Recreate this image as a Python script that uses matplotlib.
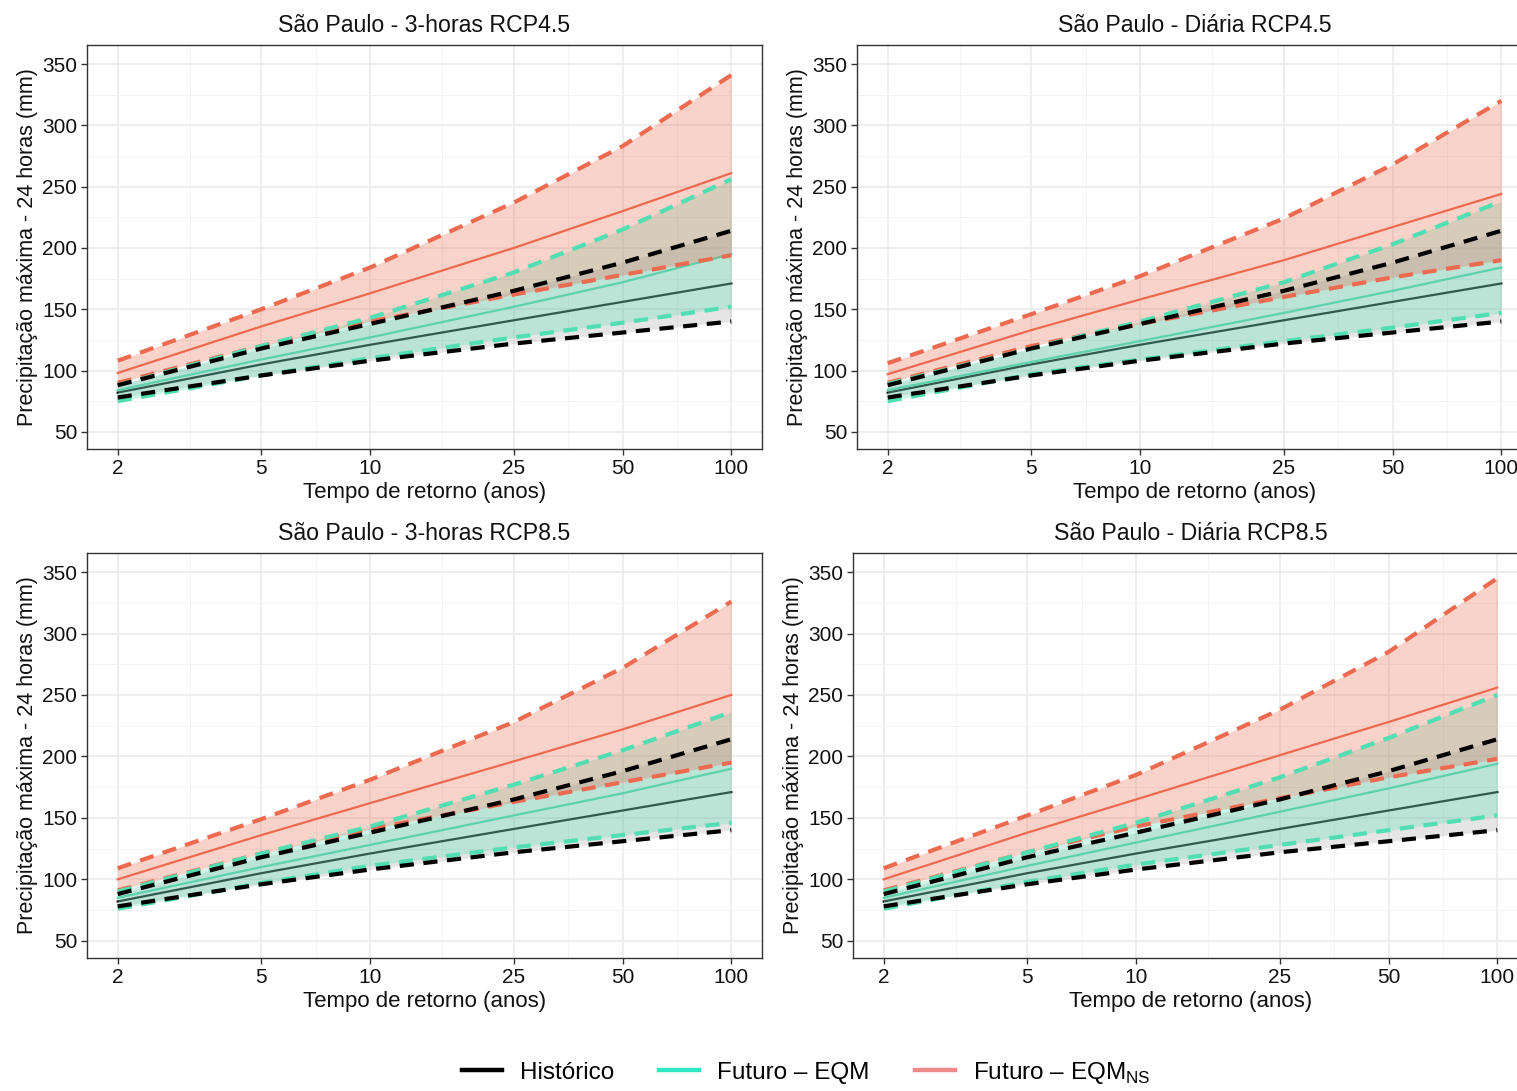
import matplotlib.pyplot as plt
from matplotlib.lines import Line2D
from matplotlib.ticker import FixedLocator, NullFormatter
import numpy as np

plt.rcParams['font.family'] = ['Liberation Sans', 'DejaVu Sans']
plt.rcParams['mathtext.fontset'] = 'custom'
plt.rcParams['mathtext.rm'] = 'Liberation Sans'

################################
## DATA:                      ##

return_periods = [2, 5, 10, 25, 50, 100]
x_ticks = [2, 5, 10, 25, 50, 100]
y_ticks = [50, 100, 150, 200, 250, 300, 350]

titles = ['São Paulo - 3-horas RCP4.5', 'São Paulo - Diária RCP4.5',
          'São Paulo - 3-horas RCP8.5', 'São Paulo - Diária RCP8.5']

# historico (same in the four panels)
hist_mid = [82, 105, 121, 141, 156, 171]
hist_lo = [78, 96, 108, 122, 131, 140]
hist_hi = [88, 118, 138, 165, 188, 214]

# 3-horas RCP4.5
eqm_mid_1 = [84, 109, 127, 152, 172, 195]
eqm_lo_1 = [75, 96, 110, 127, 139, 152]
eqm_hi_1 = [88, 120, 143, 180, 215, 256]
ns_mid_1 = [98, 136, 163, 200, 230, 261]
ns_lo_1 = [90, 120, 140, 162, 178, 194]
ns_hi_1 = [108, 150, 184, 237, 283, 341]

# Diaria RCP4.5
eqm_mid_2 = [84, 107, 124, 147, 165, 184]
eqm_lo_2 = [75, 97, 109, 124, 135, 147]
eqm_hi_2 = [89, 118, 140, 172, 203, 238]
ns_mid_2 = [97, 133, 158, 190, 217, 244]
ns_lo_2 = [90, 120, 138, 160, 176, 190]
ns_hi_2 = [106, 146, 177, 224, 268, 320]

# 3-horas RCP8.5
eqm_mid_3 = [85, 110, 128, 152, 170, 190]
eqm_lo_3 = [76, 97, 111, 126, 136, 146]
eqm_hi_3 = [90, 121, 143, 177, 205, 236]
ns_mid_3 = [100, 136, 162, 196, 222, 250]
ns_lo_3 = [91, 121, 141, 163, 179, 195]
ns_hi_3 = [109, 149, 181, 228, 272, 326]

# Diaria RCP8.5
eqm_mid_4 = [85, 111, 130, 155, 174, 194]
eqm_lo_4 = [76, 98, 112, 128, 140, 152]
eqm_hi_4 = [90, 122, 146, 183, 215, 250]
ns_mid_4 = [100, 138, 165, 201, 228, 256]
ns_lo_4 = [91, 122, 143, 166, 183, 198]
ns_hi_4 = [109, 152, 185, 238, 285, 345]

legend_labels = ['Histórico', 'Futuro – EQM', 'Futuro – EQM$_{\\mathrm{NS}}$']

################################
## STYLE:                     ##

HIST_COL = '#000000'
EQM_COL = '#50DEB2'
NS_COL = '#EC6A50'
HIST_FILL = '#9A9A9A'
LEG_COLS = ['#000000', '#2EE6C0', '#F08A8A']
DASH = (0, (3.4, 2.3))

W, H = 1517, 1091
# panel boxes in pixels: left, top, right, bottom
boxes = [(87, 45, 762, 449), (857, 45, 1532, 449),
         (87, 553, 762, 958), (853, 553, 1528, 958)]

fig = plt.figure(figsize=(W / 100, H / 100), dpi=100)


def draw_panel(ax, title, eqm, ns):
    groups = [
        (hist_mid, hist_lo, hist_hi, HIST_COL, HIST_FILL, 0.25),
        (eqm[0], eqm[1], eqm[2], EQM_COL, EQM_COL, 0.28),
        (ns[0], ns[1], ns[2], NS_COL, NS_COL, 0.30),
    ]
    # centre lines sit under the ribbons
    for mid, lo, hi, col, fill, a in groups:
        ax.plot(return_periods, mid, color=col, lw=1.6, zorder=2)
    for mid, lo, hi, col, fill, a in groups:
        ax.fill_between(return_periods, lo, hi, color=fill, alpha=a, lw=0, zorder=3)
    for mid, lo, hi, col, fill, a in groups[::-1]:
        ax.plot(return_periods, lo, color=col, lw=3.0, ls=DASH, zorder=4)
        ax.plot(return_periods, hi, color=col, lw=3.0, ls=DASH, zorder=4)

    ax.set_xscale('log')
    span = np.log10(100 / 2) * 0.05
    ax.set_xlim(2 / 10 ** span, 100 * 10 ** span)
    ax.set_ylim(36, 365.5)
    ax.set_xticks(x_ticks)
    ax.set_xticklabels([str(t) for t in x_ticks])
    minor_x = [np.sqrt(a * b) for a, b in zip(x_ticks[:-1], x_ticks[1:])]
    ax.xaxis.set_minor_locator(FixedLocator(minor_x))
    ax.xaxis.set_minor_formatter(NullFormatter())
    ax.set_yticks(y_ticks)
    ax.set_yticks([v + 25 for v in y_ticks[:-1]], minor=True)
    ax.set_axisbelow(True)
    ax.grid(which='major', color='#EBEBEB', lw=1.2)
    ax.grid(which='minor', color='#F3F3F3', lw=0.7)
    ax.tick_params(which='minor', length=0)
    ax.tick_params(which='major', length=4, width=1, color='#333333',
                   labelsize=15, labelcolor='#111111', pad=3)
    for s in ax.spines.values():
        s.set_color('#333333')
        s.set_linewidth(1)
    ax.set_title(title, fontsize=16.7, color='#111111', pad=9)
    ax.set_xlabel('Tempo de retorno (anos)', fontsize=16, color='#111111', labelpad=3)
    ax.set_ylabel('Precipitação máxima - 24 horas (mm)', fontsize=15.5, color='#111111', labelpad=3)


eqms = [(eqm_mid_1, eqm_lo_1, eqm_hi_1), (eqm_mid_2, eqm_lo_2, eqm_hi_2),
        (eqm_mid_3, eqm_lo_3, eqm_hi_3), (eqm_mid_4, eqm_lo_4, eqm_hi_4)]
nss = [(ns_mid_1, ns_lo_1, ns_hi_1), (ns_mid_2, ns_lo_2, ns_hi_2),
       (ns_mid_3, ns_lo_3, ns_hi_3), (ns_mid_4, ns_lo_4, ns_hi_4)]

for (l, t, r, b), title, eqm, ns in zip(boxes, titles, eqms, nss):
    ax = fig.add_axes([l / W, 1 - b / H, (r - l) / W, (b - t) / H])
    draw_panel(ax, title, eqm, ns)

handles = [Line2D([], [], color=c, lw=3.2) for c in LEG_COLS]
fig.legend(handles, legend_labels, loc='center', bbox_to_anchor=(806 / W, 1 - 1073 / H),
           ncol=3, frameon=False, fontsize=17.5, handlelength=1.65,
           columnspacing=1.85, handletextpad=0.75)

fig.savefig('out.png', dpi=100)
